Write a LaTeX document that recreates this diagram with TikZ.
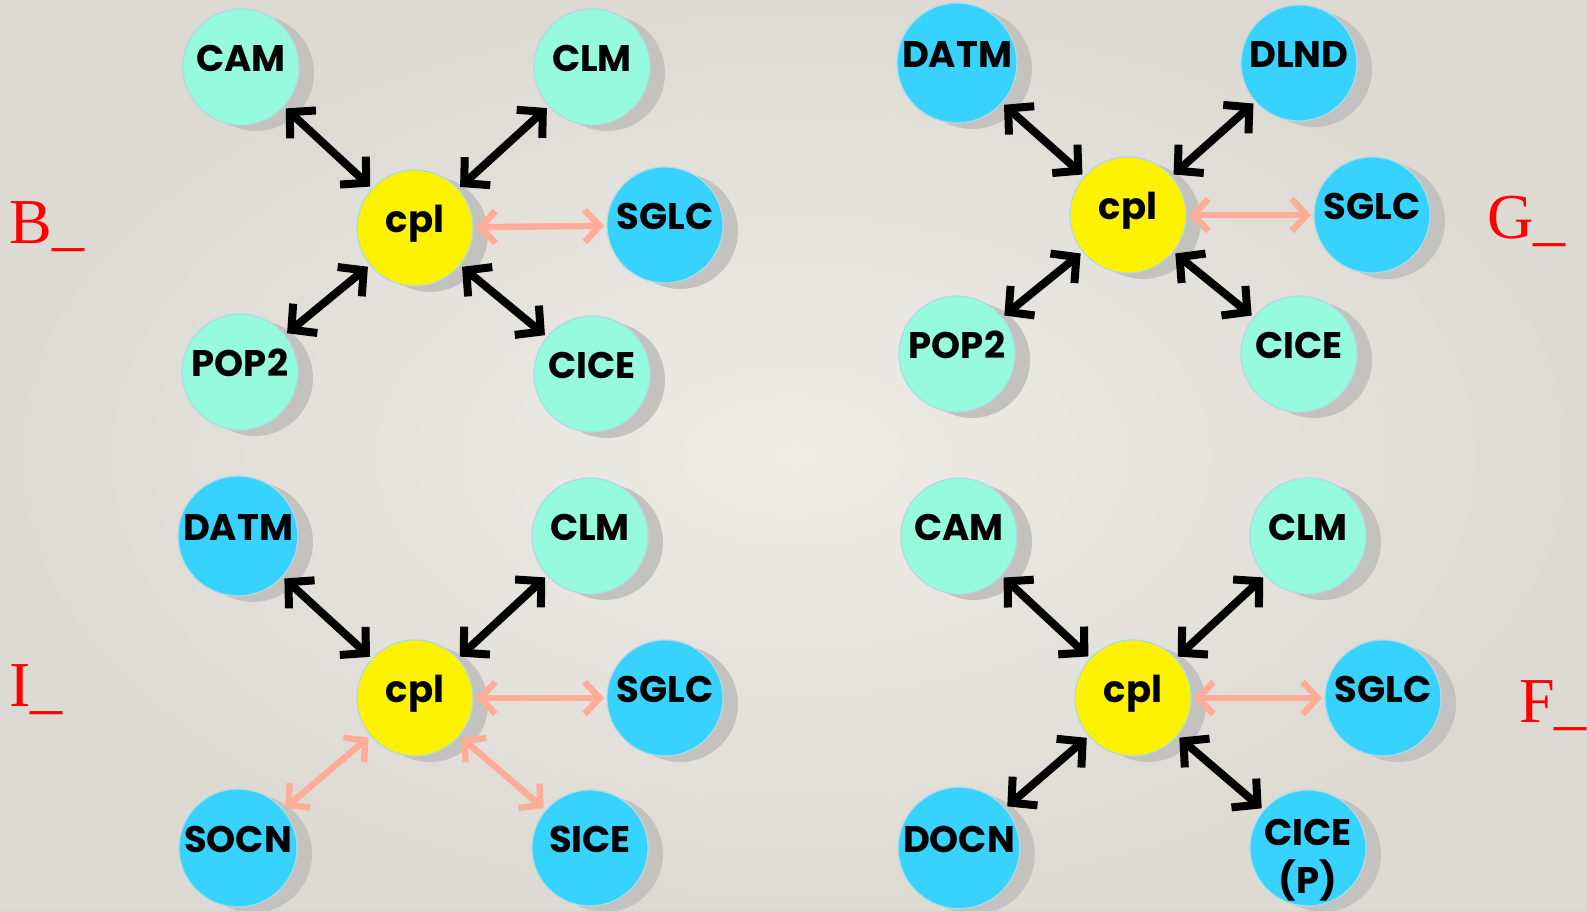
\documentclass[tikz,border=0pt]{standalone}
\usepackage{fontspec}
\setmainfont{Liberation Serif}
\newfontfamily\bubblefont{Poppins}
\usetikzlibrary{arrows.meta,shadows}
\definecolor{aqua}{RGB}{150,250,220}
\definecolor{sky}{RGB}{56,210,255}
\definecolor{salmon}{RGB}{255,172,152}
\definecolor{rim}{RGB}{175,218,228}
\definecolor{shade}{RGB}{196,194,190}
\definecolor{paperin}{RGB}{238,236,231}
\definecolor{paperout}{RGB}{221,218,212}

\begin{document}
\begin{tikzpicture}[x=0.5pt,y=-0.5pt,
  bubble/.style={circle,draw=rim,line width=0.6pt,minimum size=58pt,inner sep=0pt,outer sep=1.5pt,
    text height=14pt,text depth=10pt,
    font=\bubblefont\bfseries\fontsize{18.5}{21}\selectfont,
    drop shadow={shadow xshift=7.5pt,shadow yshift=-3pt,opacity=1,fill=shade}},
  active/.style={bubble,fill=aqua},
  data/.style={bubble,fill=sky},
  hub/.style={bubble,fill=yellow},
  link/.style={{Straight Barb[length=9pt,width=19pt]}-{Straight Barb[length=9pt,width=19pt]},line width=4pt,line cap=round,line join=round},
  slink/.style={{Straight Barb[length=7.5pt,width=16pt]}-{Straight Barb[length=7.5pt,width=16pt]},draw=salmon,line width=3.2pt,line cap=round,line join=round},
  tag/.style={text=red,font=\fontsize{32}{32}\selectfont,anchor=base west,inner sep=0pt}]

\shade[inner color=paperin,outer color=paperout] (0,0) rectangle (1587,911);
\useasboundingbox (0,0) rectangle (1587,911);

% B_ case
\node[hub] (b-cpl) at (415,228) {cpl};
\node[active] (b-cam) at (241,67) {CAM};
\node[active] (b-clm) at (592,67) {CLM};
\node[data] (b-sglc) at (665,225) {SGLC};
\node[active] (b-pop) at (240,372) {POP2};
\node[active] (b-cice) at (592,374) {CICE};
\foreach \n in {cam,clm,pop,cice}
  \draw[link] (b-cpl) -- (b-\n);
\draw[slink] (b-cpl) -- (b-sglc);
\node[tag] (b-tag) at (9,243) {B\_};

% G_ case
\node[hub] (g-cpl) at (1128,215) {cpl};
\node[data] (g-datm) at (957,63) {DATM};
\node[data] (g-dlnd) at (1299,63) {DLND};
\node[data] (g-sglc) at (1372,215) {SGLC};
\node[active] (g-pop) at (957,354) {POP2};
\node[active] (g-cice) at (1299,354) {CICE};
\foreach \n in {datm,dlnd,pop,cice}
  \draw[link] (g-cpl) -- (g-\n);
\draw[slink] (g-cpl) -- (g-sglc);
\node[tag] (g-tag) at (1487,238) {G\_};

% I_ case
\node[hub] (i-cpl) at (415,698) {cpl};
\node[data] (i-datm) at (238,536) {DATM};
\node[active] (i-clm) at (590,536) {CLM};
\node[data] (i-sglc) at (665,698) {SGLC};
\node[data] (i-socn) at (238,848) {SOCN};
\node[data] (i-sice) at (590,848) {SICE};
\foreach \n in {datm,clm}
  \draw[link] (i-cpl) -- (i-\n);
\foreach \n in {sglc,socn,sice}
  \draw[slink] (i-cpl) -- (i-\n);
\node[tag] (i-tag) at (9,706) {I\_};

% F_ case
\node[hub] (f-cpl) at (1133,698) {cpl};
\node[active] (f-cam) at (959,536) {CAM};
\node[active] (f-clm) at (1308,536) {CLM};
\node[data] (f-sglc) at (1383,698) {SGLC};
\node[data] (f-docn) at (959,848) {DOCN};
\node[data,text height=24pt,text depth=2pt] (f-cice) at (1308,848)
  {\begin{tabular}{@{}c@{}}CICE\\[1pt](P)\end{tabular}};
\foreach \n in {cam,clm,docn,cice}
  \draw[link] (f-cpl) -- (f-\n);
\draw[slink] (f-cpl) -- (f-sglc);
\node[tag] (f-tag) at (1519,722) {F\_};

\end{tikzpicture}
\end{document}
